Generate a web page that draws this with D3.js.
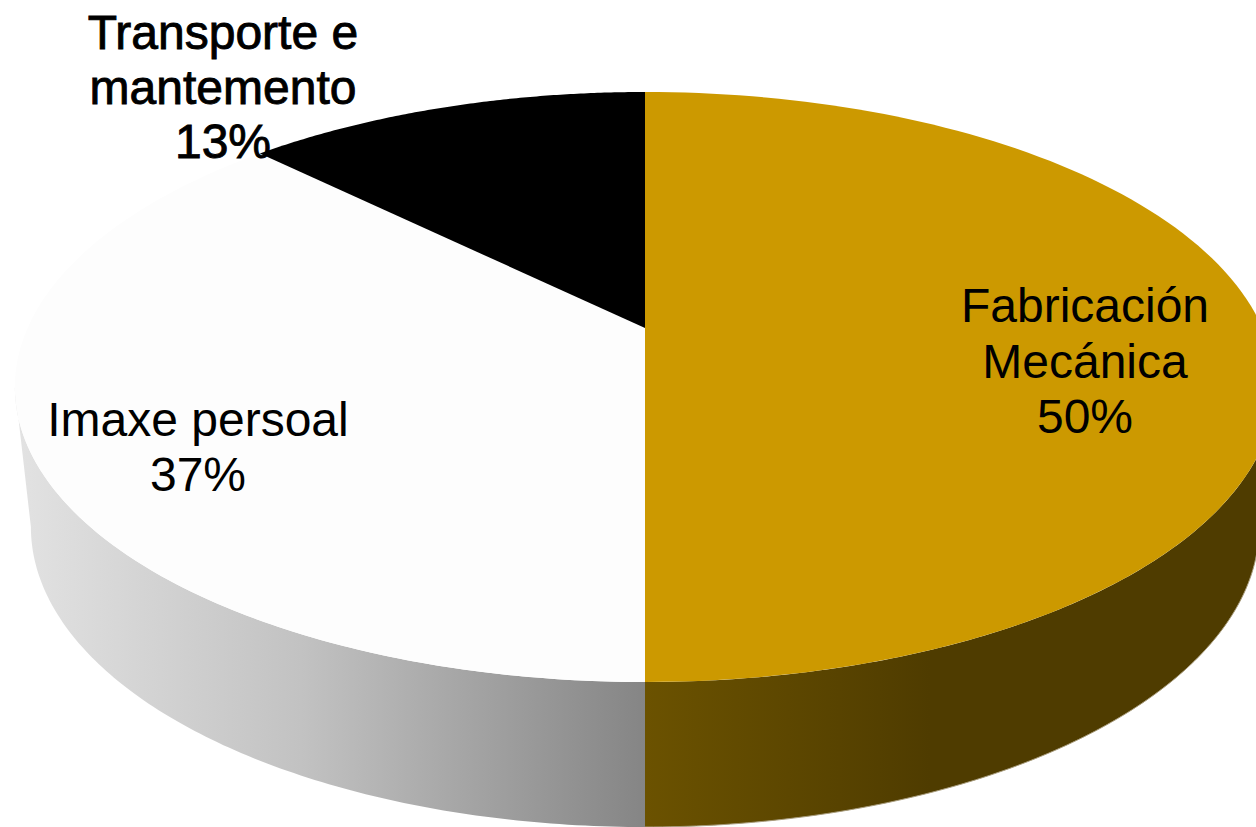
<!DOCTYPE html>
<html>
<head>
<meta charset="utf-8">
<script src="https://cdnjs.cloudflare.com/ajax/libs/d3/7.8.5/d3.min.js"></script>
<style>
  html, body { margin: 0; padding: 0; background: #fff; overflow: hidden; }
  svg { display: block; }
</style>
</head>
<body>
<div id="chart"></div>
<script>
// Data, clockwise from the top of the disc
var categories = ["Fabricación Mecánica", "Imaxe persoal", "Transporte e mantemento"];
var shares = [50, 37.4, 12.6];
var labelLines = [["Fabricación", "Mecánica"], ["Imaxe persoal"], ["Transporte e", "mantemento"]];
var topColors = ["#cc9900", "#fdfdfd", "#000000"];

var W = 1256, H = 827;

// Perspective of the disc: k makes the far half shorter than the near half
var k = 0.2,
    cx = 645,
    topPlane = {a: 617.4, b: 283.2, y0: 328},
    bottomPlane = {a: 601.7, b: 288, y0: 467};

function project(plane, angle) {
  var u = Math.sin(angle), v = Math.cos(angle), d = 1 + k * v;
  return [cx + plane.a * u / d, plane.y0 - plane.b * v / d];
}

function rim(plane, a0, a1) {
  return d3.range(0, 121).map(function(i) {
    return project(plane, a0 + (a1 - a0) * i / 120);
  });
}

var line = d3.line();

var arcs = d3.pie().sort(null)(shares);

var svg = d3.select("#chart").append("svg")
  .attr("width", W)
  .attr("height", H);

// Side gradients
var defs = svg.append("defs");

function addGradient(id, x1, x2, stops) {
  var g = defs.append("linearGradient")
    .attr("id", id)
    .attr("gradientUnits", "userSpaceOnUse")
    .attr("x1", x1).attr("x2", x2)
    .attr("y1", 0).attr("y2", 0);
  stops.forEach(function(s) {
    g.append("stop").attr("offset", s[0]).attr("stop-color", s[1]);
  });
}

addGradient("sideGold", cx, 930, [[0, "#6b5200"], [1, "#4f3c00"]]);
addGradient("sideGrey", 20, cx, [[0, "#e2e2e2"], [0.45, "#c2c2c2"], [1, "#858585"]]);

// Silhouette angles where the rim turns back
var sideEdge = Math.acos(-k);

var sides = [
  {a0: sideEdge, a1: Math.PI, fill: "url(#sideGold)"},
  {a0: Math.PI, a1: 2 * Math.PI - sideEdge, fill: "url(#sideGrey)"}
];

svg.append("g").selectAll("path")
  .data(sides)
  .enter().append("path")
    .attr("fill", function(d) { return d.fill; })
    .attr("d", function(d) {
      return line(rim(topPlane, d.a0, d.a1).concat(rim(bottomPlane, d.a1, d.a0))) + "Z";
    });

// Pale edge under the gold side
svg.append("path")
  .attr("fill", "none")
  .attr("stroke", "#a89c7c")
  .attr("stroke-width", 1)
  .attr("d", line(rim(bottomPlane, sideEdge, Math.PI)));

// Top face
svg.append("g").selectAll("path")
  .data(arcs)
  .enter().append("path")
    .attr("fill", function(d, i) { return topColors[i]; })
    .attr("d", function(d) {
      return line([[cx, topPlane.y0]].concat(rim(topPlane, d.startAngle, d.endAngle))) + "Z";
    });

// Labels
var labelPos = [
  {x: 1085, y: 322, dy: 55.5},
  {x: 198, y: 436, dy: 55},
  {x: 223, y: 49, dy: 54.5}
];

var labels = svg.append("g")
  .attr("font-family", "'Liberation Sans', Arial, sans-serif")
  .attr("font-size", 48)
  .attr("text-anchor", "middle")
  .attr("fill", "#000");

arcs.forEach(function(d, i) {
  var lines = labelLines[i].concat([Math.round(shares[i]) + "%"]);
  var t = labels.append("text");
  if (i == 2) t.attr("stroke", "#000").attr("stroke-width", 0.9);
  lines.forEach(function(s, j) {
    t.append("tspan")
      .attr("x", labelPos[i].x)
      .attr("y", labelPos[i].y + j * labelPos[i].dy)
      .text(s);
  });
});
</script>
</body>
</html>
